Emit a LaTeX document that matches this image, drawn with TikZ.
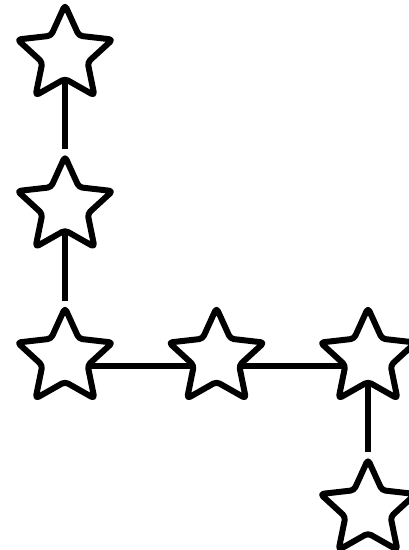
\documentclass[tikz,border=0pt]{standalone}
\usepackage{tikz}
\usetikzlibrary{shapes.geometric, positioning}

\begin{document}
\begin{tikzpicture}[
    x=1pt, y=1pt,
    node distance=151.5pt, on grid,
    starnode/.style={star, star points=5, star point ratio=2.1, minimum size=100pt, inner sep=0pt, draw, fill=white, line width=6pt, rounded corners=3.5pt, line join=round},
    link/.style={line width=6pt},
]
\useasboundingbox (0,0) rectangle (408,550);
\node[starnode] (s1) at (65,495) {};
\node[starnode, below=of s1] (s2) {};
\node[starnode, below=of s2] (s3) {};
\node[starnode, right=of s3] (s4) {};
\node[starnode, right=of s4] (s5) {};
\node[starnode, below=of s5] (s6) {};
\draw[link] (s1.inner point 3) -- (s2.outer point 1);
\draw[link] (s2.inner point 3) -- (s3.outer point 1);
\draw[link] (s3.inner point 4) -- (s4.inner point 2);
\draw[link] (s4.inner point 4) -- (s5.inner point 2);
\draw[link] (s5.inner point 3) -- (s6.outer point 1);
\end{tikzpicture}
\end{document}
